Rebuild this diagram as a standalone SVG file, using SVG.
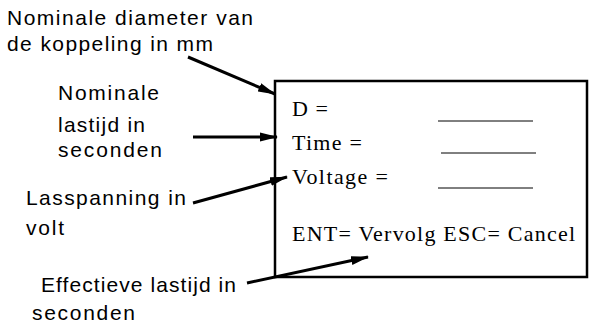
<svg xmlns="http://www.w3.org/2000/svg" width="589" height="329" viewBox="0 0 589 329">
<style>
.lbl{font-family:"Liberation Sans",Arial,sans-serif;font-size:21px;fill:#000}
.scr{font-family:"Liberation Serif","Times New Roman",serif;font-size:22px;fill:#000}
.con{stroke:#000;stroke-width:3;fill:none;marker-end:url(#ah)}
</style>
<defs>
<marker id="ah" markerWidth="18" markerHeight="10" refX="17" refY="5" orient="auto" markerUnits="userSpaceOnUse">
<path d="M0,0.5 L18,5 L0,9.5 z" fill="#000"/>
</marker>
</defs>
<rect width="589" height="329" fill="#fff"/>
<g id="screen">
<rect x="275" y="81" width="312" height="196" fill="#fff" stroke="#000" stroke-width="2.5"/>
<text class="scr" x="292" y="116" textLength="36">D =</text>
<text class="scr" x="292" y="150" textLength="70">Time =</text>
<text class="scr" x="292" y="184" textLength="96">Voltage =</text>
<text class="scr" x="292" y="241" textLength="283">ENT= Vervolg ESC= Cancel</text>
<line x1="438" y1="121" x2="533" y2="121" stroke="#000" stroke-width="1"/>
<line x1="441" y1="153" x2="536" y2="153" stroke="#000" stroke-width="1"/>
<line x1="438" y1="188" x2="533" y2="188" stroke="#000" stroke-width="1"/>
</g>
<g id="label-diameter">
<text class="lbl" x="7" y="25" textLength="246">Nominale diameter van</text>
<text class="lbl" x="7" y="51" textLength="206">de koppeling in mm</text>
</g>
<g id="label-lastijd">
<text class="lbl" x="58" y="100" textLength="101">Nominale</text>
<text class="lbl" x="58" y="132" textLength="87">lastijd in</text>
<text class="lbl" x="58" y="157" textLength="104">seconden</text>
</g>
<g id="label-spanning">
<text class="lbl" x="26" y="205" textLength="160">Lasspanning in</text>
<text class="lbl" x="26" y="235" textLength="38">volt</text>
</g>
<g id="label-effectief">
<text class="lbl" x="41" y="292" textLength="195">Effectieve lastijd in</text>
<text class="lbl" x="32" y="320" textLength="103">seconden</text>
</g>
<g id="connectors">
<line class="con" x1="188" y1="57" x2="275" y2="94"/>
<line class="con" x1="193" y1="137" x2="277" y2="137"/>
<line class="con" x1="193" y1="203" x2="287" y2="177"/>
<line class="con" x1="247" y1="283" x2="368" y2="257"/>
</g>
</svg>
